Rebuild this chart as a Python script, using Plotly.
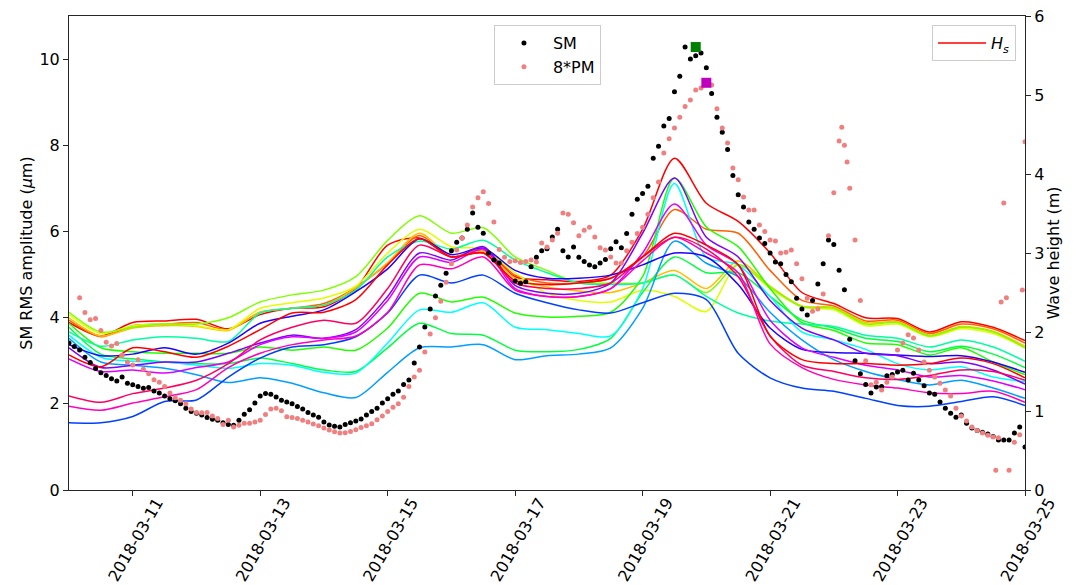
import colorsys
import pandas as pd
import plotly.graph_objects as go

# ---------------------------------------------------------------------------
# Data
# ---------------------------------------------------------------------------
START = pd.Timestamp("2018-03-10")

# Significant wave height at 17 stations (m), every 12 h from 10 Mar 00:00 to 25 Mar 00:00
hs_0 = [2.12, 1.95, 2.12, 2.14, 2.16, 2.04, 2.22, 2.30, 2.32, 2.55, 3.10, 3.19, 2.95, 3.04, 2.70, 2.66,
        2.64, 2.72, 3.30, 4.20, 3.63, 3.40, 3.00, 2.50, 2.36, 2.18, 2.17, 2.00, 2.13, 2.06, 1.89]
hs_1 = [2.15, 1.94, 2.08, 2.10, 2.12, 2.03, 2.25, 2.30, 2.36, 2.56, 2.87, 3.22, 2.95, 3.05, 2.72, 2.62,
        2.62, 2.68, 2.95, 3.55, 3.30, 3.25, 2.78, 2.40, 2.33, 2.14, 2.15, 1.98, 2.10, 2.04, 1.86]
hs_2 = [2.18, 1.95, 2.05, 2.08, 2.07, 2.02, 2.25, 2.30, 2.34, 2.56, 2.88, 3.25, 2.95, 3.02, 2.68, 2.57,
        2.52, 2.50, 2.62, 2.78, 2.55, 2.90, 2.58, 2.33, 2.31, 2.12, 2.13, 1.96, 2.07, 2.01, 1.82]
hs_3 = [2.22, 1.98, 2.08, 2.10, 2.08, 2.03, 2.30, 2.37, 2.43, 2.58, 3.00, 3.30, 3.08, 3.05, 2.75, 2.49,
        2.40, 2.38, 2.53, 2.45, 2.26, 2.85, 2.55, 2.32, 2.28, 2.08, 2.10, 1.94, 2.04, 1.98, 1.80]
hs_4 = [2.25, 2.00, 2.06, 2.10, 2.10, 2.18, 2.38, 2.47, 2.53, 2.70, 3.16, 3.47, 3.25, 3.32, 2.95, 2.78,
        2.62, 2.62, 2.62, 2.72, 2.50, 2.85, 2.57, 2.32, 2.30, 2.10, 2.12, 1.95, 2.06, 2.00, 1.80]
hs_5 = [2.11, 1.80, 1.75, 1.73, 1.73, 1.73, 1.81, 1.77, 1.81, 1.77, 2.05, 2.49, 2.38, 2.44, 2.24, 2.19,
        2.20, 2.25, 2.70, 3.95, 3.33, 3.08, 2.55, 2.12, 2.02, 1.86, 1.84, 1.71, 1.80, 1.62, 1.46]
hs_6 = [2.06, 1.72, 1.66, 1.62, 1.60, 1.60, 1.67, 1.60, 1.52, 1.50, 1.80, 2.11, 1.98, 1.96, 1.77, 1.75,
        1.78, 1.92, 2.50, 2.95, 2.75, 2.75, 2.45, 2.15, 2.05, 1.92, 1.88, 1.75, 1.82, 1.72, 1.55]
hs_7 = [2.00, 1.82, 1.90, 1.94, 1.92, 1.88, 2.24, 2.30, 2.34, 2.53, 2.95, 3.15, 3.05, 3.16, 2.91, 2.75,
        2.62, 2.60, 2.62, 2.72, 2.45, 2.24, 2.14, 2.10, 2.07, 1.96, 1.92, 1.81, 1.90, 1.81, 1.63]
hs_8 = [1.96, 1.68, 1.63, 1.62, 1.58, 1.54, 1.60, 1.58, 1.49, 1.48, 1.86, 2.28, 2.25, 2.37, 2.06, 2.03,
        1.98, 1.95, 2.55, 3.88, 2.95, 2.85, 2.45, 2.00, 1.90, 1.78, 1.60, 1.52, 1.56, 1.43, 1.37]
hs_9 = [1.92, 1.62, 1.58, 1.54, 1.46, 1.36, 1.42, 1.35, 1.23, 1.17, 1.49, 1.80, 1.81, 1.84, 1.65, 1.70,
        1.72, 1.80, 2.30, 3.15, 2.87, 2.70, 2.25, 1.90, 1.65, 1.50, 1.40, 1.33, 1.39, 1.29, 1.16]
hs_10 = [0.85, 0.85, 0.93, 1.12, 1.14, 1.43, 1.67, 1.81, 1.84, 1.94, 2.24, 2.72, 2.62, 2.72, 2.49, 2.37,
         2.28, 2.24, 2.37, 2.49, 2.41, 1.73, 1.42, 1.29, 1.25, 1.16, 1.07, 1.06, 1.12, 1.18, 1.07]
hs_11 = [1.84, 1.70, 1.72, 1.80, 1.72, 1.86, 2.11, 2.20, 2.28, 2.51, 2.80, 3.18, 2.98, 3.06, 2.78, 2.68,
         2.68, 2.72, 2.85, 3.00, 2.95, 2.60, 2.05, 1.78, 1.74, 1.73, 1.71, 1.69, 1.70, 1.62, 1.49]
hs_12 = [1.80, 1.55, 1.58, 1.62, 1.62, 1.73, 1.86, 1.96, 1.92, 2.03, 2.45, 3.00, 2.91, 3.08, 2.59, 2.49,
         2.49, 2.62, 3.25, 3.95, 3.20, 2.95, 2.40, 2.05, 1.90, 1.73, 1.70, 1.60, 1.62, 1.52, 1.34]
hs_13 = [1.66, 1.50, 1.52, 1.48, 1.55, 1.62, 1.84, 1.94, 1.92, 2.00, 2.40, 2.95, 2.88, 3.05, 2.55, 2.45,
         2.45, 2.55, 3.00, 3.62, 3.10, 2.85, 2.15, 1.80, 1.68, 1.58, 1.52, 1.43, 1.45, 1.38, 1.27]
hs_14 = [1.06, 1.01, 1.10, 1.18, 1.27, 1.55, 1.73, 1.84, 1.90, 1.95, 2.25, 2.85, 2.80, 2.95, 2.53, 2.45,
         2.45, 2.55, 2.90, 3.20, 3.00, 2.75, 1.85, 1.55, 1.40, 1.33, 1.29, 1.23, 1.22, 1.25, 1.11]
hs_15 = [1.19, 1.11, 1.22, 1.29, 1.39, 1.60, 1.90, 2.06, 2.15, 2.11, 2.55, 3.10, 2.95, 3.00, 2.62, 2.55,
         2.55, 2.62, 2.95, 3.20, 3.05, 2.70, 1.95, 1.58, 1.50, 1.42, 1.40, 1.45, 1.52, 1.50, 1.39]
hs_16 = [1.71, 1.56, 1.80, 1.75, 1.68, 1.82, 2.03, 2.24, 2.25, 2.41, 2.85, 3.18, 2.95, 3.00, 2.65, 2.60,
         2.62, 2.68, 2.95, 3.25, 3.10, 2.85, 1.95, 1.65, 1.60, 1.60, 1.58, 1.60, 1.67, 1.60, 1.42]

# Seismometer RMS amplitude (um), every 2 h from 10 Mar 00:00 (None = no sample)
sm_rms = [
    3.41, 3.33, 3.25, 3.08, 2.96, 2.82, 2.72, 2.66, 2.58, 2.53, 2.62, 2.48, 2.44, 2.40, 2.36, 2.38,
    2.30, 2.25, 2.18, 2.12, 2.07, 2.00, 1.90, 1.82, 1.78, 1.74, 1.68, 1.64, 1.62, 1.56, 1.52, 1.50,
    1.62, 1.76, 1.86, 2.02, 2.18, 2.24, 2.22, 2.16, 2.08, 2.04, 2.00, 1.94, 1.88, 1.80, 1.74, 1.69,
    1.58, 1.51, 1.48, 1.46, 1.52, 1.56, 1.60, 1.65, 1.74, 1.82, 1.90, 2.02, 2.12, 2.22, 2.30, 2.45,
    2.55, 2.95, 3.32, 3.78, 4.20, 4.50, 4.75, 5.03, 5.55, 5.75, 5.85, 6.05, 6.43, 6.10, 5.96, 5.50,
    5.34, 5.27, None, None, 4.85, 4.80, 4.83, 5.18, 5.40, 5.55, 5.60, 5.87, 6.05, 5.55, 5.41, 5.64,
    5.40, 5.30, 5.22, 5.18, 5.27, 5.35, 5.60, 5.76, 5.62, 5.95, 6.40, 6.75, 6.88, 7.05, 7.70, 7.98,
    8.45, 8.62, 9.24, 9.60, 10.28, 10.00, 10.08, 10.14, 9.80, 9.20, 8.65, 8.30, 7.90, 7.30, 6.85, 6.57,
    6.22, 6.05, 5.85, 5.72, 5.50, 5.29, 5.25, 5.00, 4.83, 4.45, 4.20, 4.06, 4.40, 4.78, 5.25, 5.80,
    5.70, 5.10, 4.65, 3.50, 3.00, 2.70, 2.45, 2.25, 2.39, 2.40, 2.65, 2.68, 2.74, 2.78, 2.55, 2.71,
    2.55, 2.42, 2.25, 2.22, 2.04, 1.90, 1.78, 1.69, 1.74, 1.55, 1.44, 1.38, 1.34, 1.30, 1.24, 1.16,
    1.16, 1.16, 1.32, 1.46, 1.00,
]

# Pressure-sensor RMS amplitude scaled by 8, same 2 h grid
pm_rms_x8 = [
    None, None, 4.46, 4.12, 3.95, 3.98, 3.70, 3.43, 3.34, 3.40, 3.13, 2.97, 2.90, 3.02, 2.80, 2.70,
    2.56, 2.50, 2.40, 2.25, 2.14, 2.08, 2.00, 1.88, 1.80, 1.79, 1.80, 1.72, 1.66, 1.52, 1.62, 1.46,
    1.50, 1.55, 1.55, 1.58, 1.62, 1.75, 1.88, 1.90, 1.84, 1.70, 1.68, 1.66, 1.62, 1.58, 1.53, 1.49,
    1.44, 1.39, 1.35, 1.32, 1.33, 1.36, 1.40, 1.45, 1.49, 1.54, 1.63, 1.72, 1.82, 1.92, 2.00, 2.15,
    2.40, 2.62, 2.78, 3.20, 3.62, 4.00, 4.38, 4.82, 5.25, 5.57, 5.85, 6.15, 6.57, 6.78, 6.92, 6.65,
    6.22, 5.58, 5.40, 5.30, 5.32, 5.28, 5.30, 5.34, 5.29, 5.73, 5.64, 5.80, 5.96, 6.43, 6.40, 6.20,
    5.90, 6.03, 6.10, 5.87, 5.62, 5.57, 5.41, 5.27, 5.27, 5.55, 5.75, 5.95, 6.10, 6.40, 6.78, 7.15,
    7.82, 8.15, 8.40, 8.65, 8.90, 9.05, 9.28, 9.33, 9.45, 9.40, 8.85, 8.40, 8.05, 7.47, 7.20, 6.80,
    6.50, 6.50, 6.15, 6.00, 5.80, 5.78, 5.50, 5.52, 5.57, 5.25, 4.90, 4.45, 4.15, 4.20, 4.55, 5.90,
    6.90, 8.10, 8.00, 7.00, 5.80, 4.40, 3.00, 2.44, 2.50, 2.32, 2.50, 2.62, 3.25, 3.41, 3.60, 3.53,
    3.25, 2.97, 2.78, 2.62, 2.48, 2.32, 2.18, 1.90, 1.72, 1.60, 1.46, 1.38, 1.32, 1.27, 1.23, 1.21,
    6.66, 0.46, 1.11, 1.28, 8.08,
]
# additional 8*PM samples falling between the 2 h grid points (hours after 10 Mar 00:00)
pm_extra_hours = [291, 293, 349, 351, 353, 359]
pm_extra_vals = [8.42, 7.61, 0.46, 4.36, 4.46, 4.64]

# Times of the two maxima
sm_peak_time = "2018-03-19 20:00"
pm_peak_time = "2018-03-20 00:00"

# ---------------------------------------------------------------------------
# Figure
# ---------------------------------------------------------------------------
hs_series = [hs_0, hs_1, hs_2, hs_3, hs_4, hs_5, hs_6, hs_7, hs_8, hs_9,
             hs_10, hs_11, hs_12, hs_13, hs_14, hs_15, hs_16]
hs_times = START + pd.to_timedelta([12 * i for i in range(len(hs_0))], unit="h")
dot_times = START + pd.to_timedelta([2 * k for k in range(len(sm_rms))], unit="h")
pm_times = list(dot_times) + list(START + pd.to_timedelta(pm_extra_hours, unit="h"))
pm_vals = pm_rms_x8 + pm_extra_vals


def hsv_colour(frac):
    r, g, b = colorsys.hsv_to_rgb(frac if frac < 1 else 0.0, 1.0, 1.0)
    return f"rgb({round(r * 255)},{round(g * 255)},{round(b * 255)})"


FONT = "DejaVu Sans"
fig = go.Figure()

n = len(hs_series)
for i, hs in enumerate(hs_series):
    fig.add_trace(go.Scatter(
        x=hs_times, y=hs, mode="lines", yaxis="y",
        line=dict(color=hsv_colour(i / (n - 1)), width=1.5, shape="spline", smoothing=0.8),
        name="<i>H</i><sub><i>s</i></sub>", showlegend=(i == 0), legend="legend",
        hoverinfo="skip",
    ))

fig.add_trace(go.Scatter(
    x=dot_times, y=sm_rms, mode="markers", yaxis="y2", name="SM",
    marker=dict(color="black", size=5), legend="legend2",
))
fig.add_trace(go.Scatter(
    x=pm_times, y=pm_vals, mode="markers", yaxis="y2", name="8*PM",
    marker=dict(color="#F08080", size=5), legend="legend2",
))
fig.add_trace(go.Scatter(
    x=[sm_peak_time], y=[max(v for v in sm_rms if v is not None)], mode="markers", yaxis="y2",
    marker=dict(color="#008000", size=10, symbol="square"), showlegend=False,
))
fig.add_trace(go.Scatter(
    x=[pm_peak_time], y=[max(v for v in pm_rms_x8[:170] if v is not None)], mode="markers",
    yaxis="y2", marker=dict(color="#BF00BF", size=10, symbol="square"), showlegend=False,
))

axis_common = dict(showgrid=False, zeroline=False, showline=True, linecolor="#262626",
                   linewidth=1, ticks="outside", ticklen=5, tickcolor="#262626",
                   automargin=False,
                   tickfont=dict(family=FONT, size=16, color="#000"))

fig.update_layout(
    width=1077, height=585,
    margin=dict(l=69, r=52, t=16, b=95),
    paper_bgcolor="white", plot_bgcolor="white",
    font=dict(family=FONT, size=16, color="#000"),
    xaxis=dict(
        **axis_common, type="date", range=["2018-03-10", "2018-03-25"],
        tick0="2018-03-11", dtick=2 * 86400000, tickformat="%Y-%m-%d",
        tickangle=-60, mirror=True, ticklabelshift=24, ticklabelstandoff=-9,
    ),
    yaxis=dict(
        **axis_common, side="right", range=[0, 6], dtick=1,
        title=dict(text="Wave height (m)", font=dict(family=FONT, size=16), standoff=2),
    ),
    yaxis2=dict(
        **axis_common, side="left", overlaying="y", anchor="x", range=[0, 11],
        tickvals=[0, 2, 4, 6, 8, 10],
        title=dict(text="SM RMS amplitude (<i>μ</i>m)", font=dict(family=FONT, size=16), standoff=2),
    ),
    legend=dict(
        x=0.9906, y=0.981, xanchor="right", yanchor="top", itemwidth=48,
        bgcolor="white", bordercolor="#CCCCCC", borderwidth=1,
        font=dict(family=FONT, size=16),
    ),
    legend2=dict(
        x=0.4445, y=0.981, xanchor="left", yanchor="top", itemwidth=48,
        bgcolor="white", bordercolor="#CCCCCC", borderwidth=1,
        font=dict(family=FONT, size=16),
    ),
)

fig.write_html("out.html")
